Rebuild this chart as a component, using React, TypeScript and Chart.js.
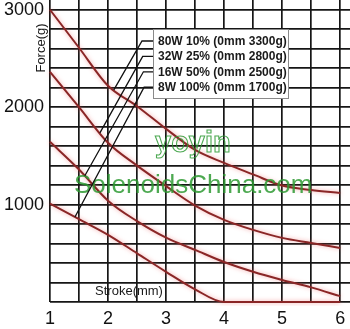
import React, { useEffect, useRef } from 'react';
import { Chart, registerables } from 'chart.js';
Chart.register(...registerables);

const strokeMm = [1, 1.5, 2, 2.5, 3, 3.5, 4, 4.5, 5, 5.5, 6];
const force80W = [3000, 2610, 2220, 2010, 1777, 1561, 1428, 1310, 1195, 1150, 1120];
const force32W = [2363, 2000, 1634, 1400, 1190, 990, 843, 740, 658, 606, 555];
const force16W = [1644, 1360, 1040, 830, 660, 535, 410, 310, 226, 150, 60];
const force8W = [1010, 850, 690, 500, 310, 130, 0, 0, 0, 0, 0];
const seriesLabels = ['80W 10% (0mm 3300g)', '32W 25% (0mm 2800g)', '16W 50% (0mm 2500g)', '8W 100% (0mm 1700g)'];
const leaderStroke = [2.1, 1.86, 1.6, 1.43];
const yTickLabels = [1000, 2000, 3000];
const xTickLabels = [1, 2, 3, 4, 5, 6];
const yTitle = 'Force(g)';
const xTitle = 'Stroke(mm)';
const watermarkTop = 'yoyin';
const watermarkBottom = 'SolenoidsChina.com';

const FONT = '"Liberation Sans", Arial, sans-serif';
const allSeries = [force80W, force32W, force16W, force8W];

function interp(xs: number[], ys: number[], x: number) {
  for (let i = 0; i < xs.length - 1; i++) {
    if (x >= xs[i] && x <= xs[i + 1]) {
      const t = (x - xs[i]) / (xs[i + 1] - xs[i]);
      return ys[i] + t * (ys[i + 1] - ys[i]);
    }
  }
  return ys[ys.length - 1];
}

const near = (a: number, list: number[]) => list.some((b) => Math.abs(a - b) < 1e-6);

const glowPlugin = {
  id: 'glow',
  beforeDatasetDraw(chart: any) {
    const ctx = chart.ctx;
    ctx.save();
    ctx.shadowColor = 'rgba(235,90,90,0.55)';
    ctx.shadowBlur = 4;
  },
  afterDatasetDraw(chart: any) {
    chart.ctx.restore();
  },
};

const overlayPlugin = {
  id: 'overlay',
  afterDatasetsDraw(chart: any) {
    const ctx = chart.ctx;
    const area = chart.chartArea;
    const xs = chart.scales.x;
    const ys = chart.scales.y;
    ctx.save();

    // watermark
    ctx.globalAlpha = 0.85;
    ctx.strokeStyle = '#2f9a35';
    ctx.lineWidth = 1.1;
    ctx.font = `bold 29px ${FONT}`;
    ctx.textBaseline = 'alphabetic';
    ctx.textAlign = 'left';
    ctx.strokeText(watermarkTop, area.left + 105, area.top + 152);
    ctx.fillStyle = '#2e9a33';
    ctx.font = `26px ${FONT}`;
    ctx.fillText(watermarkBottom, area.left + 24, area.top + 193);
    ctx.globalAlpha = 1;

    // legend box geometry
    const boxL = area.left + 103;
    const boxT = area.top + 29;
    const boxW = 135;
    const boxH = 69;
    const rowGap = 15.4;

    // leader lines
    ctx.strokeStyle = '#111';
    ctx.lineWidth = 1.3;
    seriesLabels.forEach((_, i) => {
      const rowY = boxT + 12 + i * rowGap;
      const x0 = boxL - 11 + i * 0.7;
      const tx = xs.getPixelForValue(leaderStroke[i]);
      const ty = ys.getPixelForValue(interp(strokeMm, allSeries[i], leaderStroke[i]));
      ctx.beginPath();
      ctx.moveTo(boxL, rowY);
      ctx.lineTo(x0, rowY);
      ctx.lineTo(tx, ty);
      ctx.stroke();
    });

    // legend box
    ctx.fillStyle = '#ffffff';
    ctx.fillRect(boxL, boxT, boxW, boxH);
    ctx.strokeStyle = '#8a8a8a';
    ctx.lineWidth = 1;
    ctx.strokeRect(boxL + 0.5, boxT + 0.5, boxW, boxH);
    ctx.fillStyle = '#1a1a1a';
    ctx.font = `bold 12px ${FONT}`;
    ctx.textBaseline = 'middle';
    seriesLabels.forEach((t, i) => {
      ctx.fillText(t, boxL + 5, boxT + 12.5 + i * rowGap);
    });

    // axis titles
    ctx.fillStyle = '#1a1a1a';
    ctx.font = `13px ${FONT}`;
    ctx.textAlign = 'center';
    ctx.fillText(xTitle, area.left + 79, area.bottom - 11);
    ctx.save();
    ctx.translate(area.left - 9, area.top + 48);
    ctx.rotate(-Math.PI / 2);
    ctx.fillText(yTitle, 0, 0);
    ctx.restore();

    ctx.restore();
  },
};

export default function App() {
  const ref = useRef<HTMLCanvasElement | null>(null);
  useEffect(() => {
    if (!ref.current) return;
    const lineColor = '#8a2626';
    const chart = new Chart(ref.current, {
      type: 'line',
      data: {
        datasets: allSeries.map((s, i) => ({
          label: seriesLabels[i],
          data: strokeMm.map((x, j) => ({ x, y: s[j] })),
          borderColor: lineColor,
          borderWidth: 2,
          pointRadius: 0,
          fill: false,
          cubicInterpolationMode: 'monotone' as const,
          clip: 4,
        })),
      },
      options: {
        responsive: false,
        animation: false,
        layout: { padding: 0 },
        plugins: { legend: { display: false }, tooltip: { enabled: false } },
        scales: {
          x: {
            type: 'linear',
            min: 1,
            max: 6.17,
            afterBuildTicks: (scale: any) => {
              scale.ticks = scale.ticks.filter((t: any) => Math.abs(t.value * 2 - Math.round(t.value * 2)) < 1e-6);
            },
            afterFit: (scale: any) => {
              scale.height = 27;
              scale.paddingLeft = 0;
              scale.paddingRight = 0;
            },
            ticks: {
              stepSize: 0.5,
              includeBounds: false,
              autoSkip: false,
              maxRotation: 0,
              padding: 6,
              color: '#111',
              font: { family: FONT, size: 18 },
              callback: (v: any) => (near(Number(v), xTickLabels) ? String(Math.round(Number(v))) : ''),
            },
            grid: { color: '#161616', lineWidth: 1.7, drawTicks: false },
            border: { display: false },
          },
          y: {
            min: 0,
            max: 3100,
            afterBuildTicks: (scale: any) => {
              scale.ticks = scale.ticks.filter((t: any) => Math.abs(t.value / 200 - Math.round(t.value / 200)) < 1e-6);
            },
            afterFit: (scale: any) => {
              scale.width = 50;
              scale.paddingTop = 0;
              scale.paddingBottom = 0;
            },
            ticks: {
              stepSize: 200,
              includeBounds: false,
              autoSkip: false,
              padding: 6,
              color: '#111',
              font: { family: FONT, size: 18 },
              callback: (v: any) => (near(Number(v), yTickLabels) ? String(Math.round(Number(v))) : ''),
            },
            grid: { color: '#161616', lineWidth: 1.7, drawTicks: false },
            border: { display: false },
          },
        },
      },
      plugins: [glowPlugin, overlayPlugin],
    });
    return () => chart.destroy();
  }, []);
  return (
    <div style={{ position: 'absolute', left: 0, top: 0, width: 350, height: 329, background: '#fff' }}>
      <canvas ref={ref} width={350} height={329} style={{ display: 'block' }} />
    </div>
  );
}
